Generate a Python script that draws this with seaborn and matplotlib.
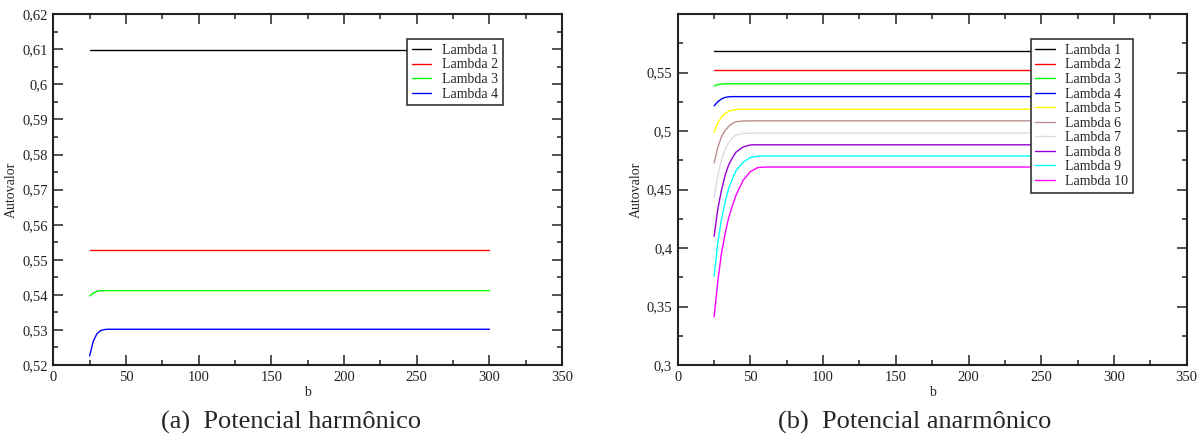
import numpy as np
import pandas as pd
import matplotlib
matplotlib.use("Agg")
import matplotlib.pyplot as plt
import seaborn as sns
from matplotlib.ticker import MultipleLocator, FuncFormatter

# ---- data -------------------------------------------------------------
b_values = [25, 27.5, 30, 32.5, 35, 37.5, 40, 45, 50, 55, 60, 300]

# (a) harmonic potential: eigenvalues vs b
harm_lambda1 = [0.6097] * 12
harm_lambda2 = [0.5529] * 12
harm_lambda3 = [0.5397, 0.5405, 0.5410, 0.5412, 0.5412, 0.5412, 0.5412,
                0.5412, 0.5412, 0.5412, 0.5412, 0.5412]
harm_lambda4 = [0.5226, 0.5268, 0.5289, 0.5298, 0.5301, 0.5302, 0.5302,
                0.5302, 0.5302, 0.5302, 0.5302, 0.5302]

# (b) anharmonic potential: eigenvalues vs b
anh_lambda1 = [0.5687] * 12
anh_lambda2 = [0.5522] * 12
anh_lambda3 = [0.5386, 0.5397, 0.5403, 0.5405, 0.5405, 0.5405, 0.5405,
               0.5405, 0.5405, 0.5405, 0.5405, 0.5405]
anh_lambda4 = [0.5216, 0.5250, 0.5275, 0.5288, 0.5293, 0.5295, 0.5295,
               0.5295, 0.5295, 0.5295, 0.5295, 0.5295]
anh_lambda5 = [0.4990, 0.5070, 0.5120, 0.5150, 0.5170, 0.5180, 0.5185,
               0.5187, 0.5187, 0.5187, 0.5187, 0.5187]
anh_lambda6 = [0.4727, 0.4860, 0.4950, 0.5005, 0.5040, 0.5065, 0.5080,
               0.5087, 0.5088, 0.5088, 0.5088, 0.5088]
anh_lambda7 = [0.4430, 0.4620, 0.4750, 0.4840, 0.4900, 0.4940, 0.4965,
               0.4981, 0.4983, 0.4983, 0.4983, 0.4983]
anh_lambda8 = [0.4100, 0.4330, 0.4490, 0.4620, 0.4710, 0.4770, 0.4820,
               0.4865, 0.4882, 0.4883, 0.4883, 0.4883]
anh_lambda9 = [0.3760, 0.4040, 0.4240, 0.4390, 0.4510, 0.4590, 0.4660,
               0.4735, 0.4775, 0.4786, 0.4787, 0.4787]
anh_lambda10 = [0.3410, 0.3710, 0.3950, 0.4120, 0.4260, 0.4360, 0.4450,
                0.4580, 0.4655, 0.4688, 0.4693, 0.4693]

series_names = ["Lambda 1", "Lambda 2", "Lambda 3", "Lambda 4", "Lambda 5",
                "Lambda 6", "Lambda 7", "Lambda 8", "Lambda 9", "Lambda 10"]
series_colors = ["#000000", "#ff0000", "#00ff00", "#0000ff", "#ffff00",
                 "#bc8f8f", "#dcdcdc", "#9400d3", "#00ffff", "#ff00ff"]

harm_series = [harm_lambda1, harm_lambda2, harm_lambda3, harm_lambda4]
anh_series = [anh_lambda1, anh_lambda2, anh_lambda3, anh_lambda4, anh_lambda5,
              anh_lambda6, anh_lambda7, anh_lambda8, anh_lambda9, anh_lambda10]

harm_yticks = [0.52, 0.53, 0.54, 0.55, 0.56, 0.57, 0.58, 0.59, 0.60, 0.61, 0.62]
anh_yticks = [0.30, 0.35, 0.40, 0.45, 0.50, 0.55]
xticks = [0, 50, 100, 150, 200, 250, 300, 350]

captions = ["(a)  Potencial harmônico", "(b)  Potencial anarmônico"]


def long_frame(series):
    rows = []
    for name, vals in zip(series_names, series):
        for b, v in zip(b_values, vals):
            rows.append({"b": b, "Autovalor": v, "serie": name})
    return pd.DataFrame(rows)


# ---- style ------------------------------------------------------------
sns.set_style("ticks")
plt.rcParams["font.family"] = ["Liberation Serif", "DejaVu Serif"]

fig = plt.figure(figsize=(12, 4.43), dpi=100)
ax_a = fig.add_axes([0.0444, 0.176, 0.424, 0.792])
ax_b = fig.add_axes([0.5648, 0.176, 0.424, 0.792])

comma = FuncFormatter(lambda v, pos: f"{round(v, 4):g}".replace(".", ","))


def style_axes(ax, ylim, yticks, yminor):
    ax.set_xlim(0, 350)
    ax.set_ylim(*ylim)
    ax.set_xticks(xticks)
    ax.set_yticks(yticks)
    ax.xaxis.set_minor_locator(MultipleLocator(25))
    ax.yaxis.set_minor_locator(MultipleLocator(yminor))
    ax.xaxis.set_major_formatter(comma)
    ax.yaxis.set_major_formatter(comma)
    ax.tick_params(which="both", direction="in", top=True, right=True,
                   width=1.1, colors="#222222", labelcolor="#222222",
                   labelsize=10.5)
    ax.tick_params(which="major", length=7, pad=4)
    ax.tick_params(which="minor", length=3.5)
    for sp in ax.spines.values():
        sp.set_visible(True)
        sp.set_linewidth(1.5)
        sp.set_color("#222222")
    ax.set_xlabel("b", fontsize=10, labelpad=2)
    ax.set_ylabel("Autovalor", fontsize=10, labelpad=3)


def draw(ax, series, legend_anchor):
    df = long_frame(series)
    n = len(series)
    palette = dict(zip(series_names[:n], series_colors[:n]))
    sns.lineplot(data=df, x="b", y="Autovalor", hue="serie",
                 hue_order=series_names[:n], palette=palette,
                 linewidth=1.0, ax=ax, legend=True)
    handles, labels = ax.get_legend_handles_labels()
    leg = ax.legend(handles, labels, loc="upper right",
                    bbox_to_anchor=legend_anchor, fontsize=10,
                    frameon=True, fancybox=False, framealpha=1,
                    edgecolor="#333333", handlelength=1.4,
                    handletextpad=0.75, labelspacing=0.11,
                    borderpad=0.35, borderaxespad=0)
    leg.get_frame().set_linewidth(1.2)


draw(ax_a, harm_series, (0.883, 0.929))
style_axes(ax_a, (0.52, 0.62), harm_yticks, 0.005)

draw(ax_b, anh_series, (0.895, 0.929))
style_axes(ax_b, (0.30, 0.60), anh_yticks, 0.025)

fig.text(0.2425, 0.047, captions[0], ha="center", va="center", fontsize=19)
fig.text(0.7625, 0.047, captions[1], ha="center", va="center", fontsize=19)

fig.savefig("out.png", dpi=100, facecolor="white")
